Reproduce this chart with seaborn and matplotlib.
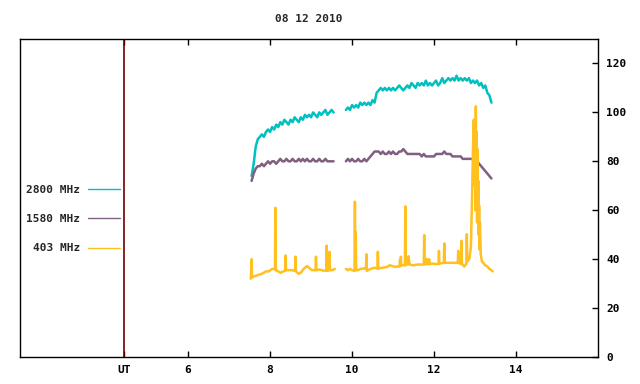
import numpy as np
import pandas as pd
import matplotlib
matplotlib.use("Agg")
import matplotlib.pyplot as plt
import seaborn as sns

# =====================================
# DATA
# =====================================

title_text = "08 12 2010"
bands = ["2800 MHz", "1580 MHz", "403 MHz"]
band_colors = ["#00c0c0", "#806080", "#ffc020"]

ut_label_pos = 4.44
xtick_vals = [6, 8, 10, 12, 14]
ytick_vals = [0, 20, 40, 60, 80, 100, 120]

# 2800 / 1580 MHz share the same sampling, two segments with a gap
t_hi_a = np.round(np.arange(7.55, 9.551, 0.05), 2)
t_hi_b = np.round(np.arange(9.85, 13.401, 0.05), 2)

f2800_a = [74, 79, 86, 89, 90, 91, 90, 92, 93, 92,
           94, 93, 95, 94, 96, 95, 97, 96, 95, 97,
           96, 98, 97, 96, 98, 97, 99, 98, 99, 98,
           100, 99, 98, 100, 99, 100, 101, 99, 100, 101, 100]
f2800_b = [101, 102, 101, 103, 102, 103, 102, 104, 103, 104,
           103, 104, 103, 105, 104, 108, 109, 110, 109, 110,
           109, 110, 109, 110, 109, 110, 111, 110, 109, 110,
           111, 110, 112, 111, 110, 112, 111, 112, 111, 113,
           111, 112, 111, 112, 113, 111, 112, 114, 112, 113,
           114, 113, 114, 113, 115, 113, 114, 113, 114, 113,
           114, 112, 113, 112, 113, 111, 112, 110, 111, 108,
           107, 104]

f1580_a = [72, 75, 77, 78, 78, 79, 78, 79, 80, 79,
           80, 80, 79, 80, 81, 80, 80, 81, 80, 80,
           81, 80, 80, 81, 80, 81, 80, 81, 80, 80,
           81, 80, 80, 81, 80, 80, 81, 80, 80, 80, 80]
f1580_b = [80, 81, 80, 81, 80, 80, 81, 80, 80, 81,
           80, 81, 82, 83, 84, 84, 84, 83, 84, 83,
           83, 84, 83, 84, 83, 83, 84, 84, 85, 84,
           83, 83, 83, 83, 83, 83, 83, 82, 83, 82,
           82, 82, 82, 82, 83, 83, 83, 83, 84, 83,
           83, 83, 82, 82, 82, 82, 82, 81, 81, 81,
           81, 81, 81, 80, 80, 79, 78, 77, 76, 75,
           74, 73]

# 403 MHz: baseline with short spikes and the big burst near 13 UT
t403_a = [7.53, 7.55, 7.56, 7.62, 7.70, 7.80, 7.90, 7.97, 8.05, 8.12,
          8.13, 8.14, 8.20, 8.26, 8.32, 8.37, 8.38, 8.39, 8.50, 8.61,
          8.62, 8.63, 8.70, 8.75, 8.82, 8.90, 8.95, 9.02, 9.11, 9.12,
          9.13, 9.20, 9.30, 9.37, 9.38, 9.39, 9.40, 9.41, 9.44, 9.45,
          9.46, 9.52, 9.58]
f403_a = [32, 40, 32.5, 33, 33.5, 34, 35, 35, 36, 36,
          61, 35.5, 35, 34.4, 35, 35.3, 41.5, 35.5, 35.5, 35.3,
          41, 35, 34, 34.5, 36, 37.2, 36.5, 35.5, 35.5, 41,
          35.5, 35.8, 35.3, 35.3, 45.5, 35.3, 40, 35.3, 35.5, 43,
          35.5, 35.5, 36]

t403_b = [9.85, 9.90, 9.95, 10.00, 10.06, 10.07, 10.08, 10.09, 10.10, 10.15,
          10.20, 10.30, 10.34, 10.35, 10.36, 10.40, 10.45, 10.55, 10.62, 10.63,
          10.64, 10.75, 10.85, 10.92, 11.00, 11.05, 11.10, 11.16, 11.17, 11.18,
          11.19, 11.20, 11.29, 11.30, 11.31, 11.36, 11.38, 11.40, 11.50, 11.60,
          11.70, 11.75, 11.76, 11.77, 11.81, 11.82, 11.83, 11.87, 11.88, 11.89,
          11.95, 12.05, 12.11, 12.12, 12.13, 12.24, 12.25, 12.26, 12.35, 12.45,
          12.55, 12.58, 12.59, 12.60, 12.66, 12.67, 12.68, 12.74, 12.78, 12.79,
          12.80, 12.81, 12.86, 12.90, 12.93, 12.95, 12.97, 12.99, 13.00, 13.01,
          13.02, 13.03, 13.04, 13.05, 13.06, 13.07, 13.08, 13.09, 13.10, 13.11,
          13.12, 13.14, 13.17, 13.20, 13.25, 13.30, 13.35, 13.40, 13.43]
f403_b = [36, 35.5, 36, 35.5, 35.2, 63.5, 36, 51, 35.5, 35.5,
          36, 36.2, 36, 42, 35.2, 35.5, 36, 36.5, 36.2, 43,
          36.2, 36.5, 36.8, 37.5, 37.1, 36.8, 37, 37, 39.6, 37.2,
          41, 37.5, 37.5, 61.6, 37.5, 38, 41.2, 37.8, 37.5, 37.8,
          37.8, 37.8, 49.8, 38, 38, 40, 38, 38, 40, 38,
          38.2, 38, 38, 43.4, 38.2, 38.5, 46.4, 38.5, 38.5, 38.5,
          38.5, 38.5, 43.4, 38.5, 38, 47.5, 38, 37, 38, 38,
          50.2, 39, 40, 45, 67.5, 85, 97, 70, 95, 60,
          102.5, 75, 92, 55, 85, 58, 72, 50, 62, 44,
          55, 42, 39, 38.5, 37.5, 37, 36, 35.5, 35]

# =====================================
# LONG TABLE
# =====================================

pieces = [
    ("2800 MHz", 1, t_hi_a, f2800_a),
    ("2800 MHz", 2, t_hi_b, f2800_b),
    ("1580 MHz", 1, t_hi_a, f1580_a),
    ("1580 MHz", 2, t_hi_b, f1580_b),
    ("403 MHz", 1, t403_a, f403_a),
    ("403 MHz", 2, t403_b, f403_b),
]
df = pd.concat(
    [pd.DataFrame({"ut": t, "flux": v, "band": b, "seg": s}) for b, s, t, v in pieces],
    ignore_index=True
)

# =====================================
# PLOT
# =====================================

sns.set_style("white")
plt.rcParams["font.family"] = ["DejaVu Sans Mono"]
plt.rcParams["font.weight"] = "bold"
plt.rcParams["font.size"] = 8

fig = plt.figure(figsize=(6.4, 3.84), dpi=100)
ax = fig.add_axes([20/640, 1 - 357/384, 578/640, 318/384])

sns.lineplot(
    data=df, x="ut", y="flux",
    hue="band", hue_order=bands,
    palette=dict(zip(bands, band_colors)),
    units="seg", estimator=None, sort=False,
    linewidth=1.8, ax=ax
)

ax.axvline(ut_label_pos, color="#700000", linewidth=1.2)

ax.set_xlim(1.9, 16.0)
ax.set_ylim(0, 130)
ax.set_xlabel("")
ax.set_ylabel("")

ax.set_xticks([ut_label_pos] + xtick_vals)
ax.set_xticklabels(["UT"] + [str(v) for v in xtick_vals])
ax.set_yticks(ytick_vals)

ax.tick_params(axis="x", direction="in", top=True, bottom=True,
               length=4, width=1, colors="black", pad=6)
ax.tick_params(axis="y", direction="in", left=False, right=True,
               labelleft=False, labelright=True,
               length=4, width=1, colors="black", pad=6)

for sp in ax.spines.values():
    sp.set_color("black")
    sp.set_linewidth(1)

sns.move_legend(
    ax, "center right",
    bbox_to_anchor=(120/640, 1 - 219/384),
    bbox_transform=fig.transFigure,
    title="", frameon=False, markerfirst=False,
    handlelength=2.9, handletextpad=0.7, labelspacing=1.75,
    borderpad=0, borderaxespad=0,
    prop={"family": "DejaVu Sans Mono", "weight": "bold", "size": 8}
)
for line in ax.get_legend().get_lines():
    line.set_linewidth(1)

fig.text(309/640, 1 - 19/384, title_text, ha="center", va="center")

fig.savefig("out.png", dpi=100)
